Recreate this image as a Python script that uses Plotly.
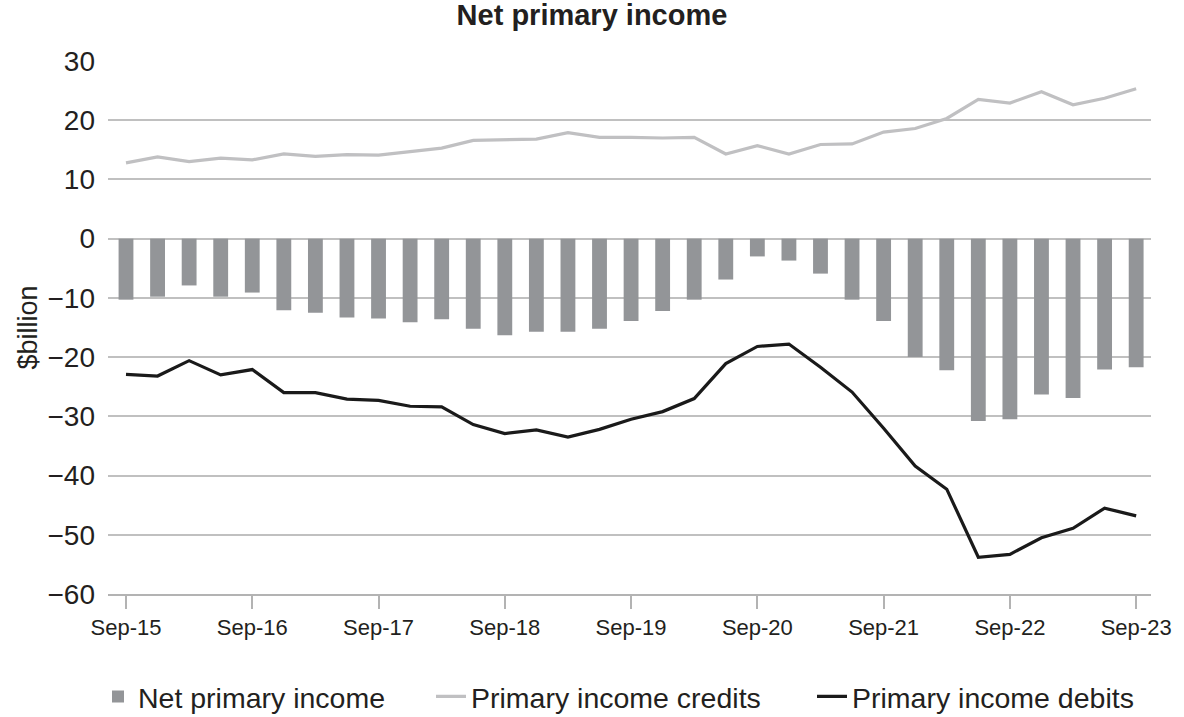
import plotly.graph_objects as go

quarters = list(range(33))
tick_positions = [0, 4, 8, 12, 16, 20, 24, 28, 32]
tick_labels = ["Sep-15", "Sep-16", "Sep-17", "Sep-18", "Sep-19", "Sep-20", "Sep-21", "Sep-22", "Sep-23"]

net_primary_income = [-10.3, -9.8, -7.9, -9.8, -9.1, -12.1, -12.5, -13.3, -13.5, -14.1, -13.6,
                      -15.2, -16.3, -15.7, -15.7, -15.2, -13.9, -12.2, -10.3, -6.9, -3.0, -3.7,
                      -5.9, -10.3, -13.9, -20.0, -22.2, -30.8, -30.5, -26.3, -26.9, -22.1, -21.7]
credits = [12.8, 13.8, 13.0, 13.6, 13.3, 14.3, 13.9, 14.2, 14.1, 14.7, 15.3, 16.6, 16.7, 16.8,
           17.9, 17.1, 17.1, 17.0, 17.1, 14.3, 15.7, 14.3, 15.9, 16.0, 18.0, 18.6, 20.3, 23.5,
           22.9, 24.8, 22.6, 23.7, 25.3]
debits = [-22.9, -23.2, -20.6, -23.0, -22.1, -26.0, -26.0, -27.1, -27.3, -28.3, -28.4, -31.4,
          -32.9, -32.3, -33.5, -32.2, -30.5, -29.2, -27.0, -21.1, -18.2, -17.8, -21.7, -25.9,
          -32.0, -38.4, -42.3, -53.8, -53.3, -50.5, -48.9, -45.5, -46.8]

FONT = "Liberation Sans, Arial, sans-serif"
TXT = "#231f20"

fig = go.Figure()
fig.add_trace(go.Bar(x=quarters, y=net_primary_income, name="Net primary income",
                     marker=dict(color="#939598", line=dict(width=0)), width=0.47,
                     legend="legend"))
fig.add_trace(go.Scatter(x=quarters, y=credits, name="Primary income credits", mode="lines",
                         line=dict(color="#c0c0c2", width=3.2), legend="legend2"))
fig.add_trace(go.Scatter(x=quarters, y=debits, name="Primary income debits", mode="lines",
                         line=dict(color="#1a1a1a", width=3.2), legend="legend3"))

leg_common = dict(orientation="h", xref="container", yref="container", xanchor="left",
                  yanchor="middle", y=0.028, font=dict(size=28.5, color=TXT, family=FONT),
                  itemwidth=30, bgcolor="rgba(0,0,0,0)", borderwidth=0)

fig.update_layout(
    width=1184, height=717,
    margin=dict(l=108, r=27, t=61, b=123),
    paper_bgcolor="white", plot_bgcolor="white",
    font=dict(family=FONT, color=TXT, size=22),
    title=dict(text="<b>Net primary income</b>", x=0.5, xref="container", xanchor="center",
               y=1 - 15 / 717, yref="container", yanchor="middle", font=dict(size=29, color=TXT)),
    showlegend=True,
    legend=dict(x=98 / 1184, **leg_common),
    legend2=dict(x=431 / 1184, **leg_common),
    legend3=dict(x=812 / 1184, **leg_common),
)
fig.update_xaxes(range=[-0.57, 32.47], tickmode="array", tickvals=tick_positions, ticktext=tick_labels,
                 showgrid=False, zeroline=False, showline=True, linecolor="#b3b3b3", linewidth=1.5,
                 ticks="outside", ticklen=13, tickwidth=1.5, tickcolor="#b3b3b3",
                 tickfont=dict(size=22, color=TXT))
fig.update_yaxes(range=[-60, 30], tickmode="array", tickvals=list(range(-60, 31, 10)),
                 showgrid=True, gridcolor="#c0c0c0", gridwidth=1.5, zeroline=False,
                 showline=False, ticks="", ticklabelstandoff=12,
                 tickfont=dict(size=28, color=TXT),
                 title=dict(text="$billion", font=dict(size=27, color=TXT), standoff=2))

fig.write_html("out.html")
